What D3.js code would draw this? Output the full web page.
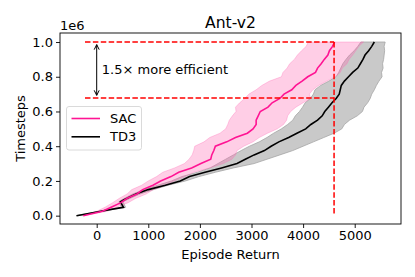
<!DOCTYPE html>
<html>
<head>
<meta charset="utf-8">
<script src="https://cdn.jsdelivr.net/npm/d3@7"></script>
<style>
  body { margin: 0; background: #fff; }
  svg { font-family: "DejaVu Sans", sans-serif; }
</style>
</head>
<body>
<div id="chart"></div>
<script>
// timesteps are in units of 1e6, values are episode returns
const sacSteps = [0, .025, .05, .075, .1, .125, .15, .175, .2, .225, .25, .275, .3, .325, .35, .375, .4, .425, .45, .475,
                  .5, .525, .55, .575, .6, .625, .65, .675, .7, .725, .75, .775, .8, .825, .85, .875, .9, .925, .95, .975, 1.0];
const sacMean  = [-260, 110, 290, 470, 590, 780, 890, 1090, 1240, 1440, 1590, 1840, 2020, 2210, 2230, 2270, 2300, 2520, 2690, 2920,
                  3030, 3090, 3090, 3130, 3170, 3320, 3400, 3550, 3630, 3780, 3860, 3980, 4090, 4240, 4280, 4350, 4410, 4480, 4510, 4570, 4610];
const sacLow   = [-270, 0, 170, 310, 440, 590, 680, 870, 1000, 1160, 1280, 1510, 1700, 1790, 1850, 1880, 1900, 2080, 2190, 2390,
                  2500, 2540, 2570, 2630, 2700, 2690, 2770, 2870, 2950, 3090, 3200, 3350, 3580, 3610, 3690, 3740, 3830, 3890, 3970, 4060, 4100];
const sacHigh  = [-250, 200, 400, 610, 760, 960, 1100, 1330, 1500, 1710, 1880, 2190, 2450, 2620, 2690, 2720, 2850, 3030, 3150, 3310,
                  3500, 3620, 3680, 3700, 3760, 3860, 4000, 4150, 4120, 4190, 4300, 4460, 4620, 4720, 4760, 4850, 4890, 4960, 5020, 5080, 5170];

const td3Steps = [0, .025, .045, .048, .08, .092, .1, .125, .15, .175, .2, .225, .25, .275, .3, .325, .35, .375, .4, .425,
                  .45, .475, .5, .525, .55, .575, .6, .625, .65, .675, .7, .725, .75, .775, .8, .825, .85, .875, .9, .925, .95, .975, 1.0];
const td3Mean  = [-390, 80, 450, 520, 460, 530, 590, 760, 1000, 1330, 1620, 1800, 2100, 2420, 2720, 2880, 3050, 3250, 3380, 3530,
                  3720, 3880, 4050, 4150, 4280, 4370, 4420, 4490, 4560, 4640, 4700, 4720, 4740, 4800, 4880, 4960, 5060, 5110, 5160, 5200, 5270, 5330, 5380];
const td3Low   = [-400, 50, 420, 480, 430, 490, 540, 700, 920, 1180, 1450, 1650, 1950, 2200, 2350, 2500, 2650, 2800, 2960, 3150,
                  3300, 3430, 3580, 3700, 3800, 3850, 3930, 3990, 4040, 4140, 4200, 4230, 4340, 4500, 4640, 4690, 4730, 4770, 4830, 4900, 4990, 5060, 5120];
const td3High  = [-380, 110, 480, 560, 510, 590, 650, 840, 1100, 1380, 1720, 1980, 2300, 2650, 3050, 3300, 3550, 3800, 4000, 4200,
                  4400, 4600, 4750, 4800, 4900, 5050, 5150, 5180, 5250, 5300, 5330, 5380, 5420, 5470, 5530, 5520, 5550, 5540, 5560, 5570, 5580, 5570, 5590];

const xTicks = [0, 1000, 2000, 3000, 4000, 5000];
const yTicks = [0, 0.2, 0.4, 0.6, 0.8, 1.0];

// reference lines
const targetReturn = 4600;
const sacReach = 0.678;
const guideStart = -227;

const width = 415, height = 277;
const marginLeft = 60, marginRight = 14, marginTop = 33, marginBottom = 53;

const x = d3.scaleLinear([-711, 5897], [marginLeft, width - marginRight]);
const y = d3.scaleLinear([-0.048, 1.052], [height - marginBottom, marginTop]);

const svg = d3.select("#chart").append("svg")
    .attr("width", width)
    .attr("height", height);

function rows(steps, mean, lo, hi) {
    return steps.map((t, i) => ({t: t, mean: mean[i], lo: lo[i], hi: hi[i]}));
}
const sac = rows(sacSteps, sacMean, sacLow, sacHigh);
const td3 = rows(td3Steps, td3Mean, td3Low, td3High);

const band = d3.area()
    .y(d => y(d.t))
    .x0(d => x(d.lo))
    .x1(d => x(d.hi));
const line = d3.line()
    .x(d => x(d.mean))
    .y(d => y(d.t));

const plot = svg.append("g");

// shaded bands
plot.append("path")
    .attr("d", band(td3))
    .attr("fill", "#c9c9c9")
    .attr("stroke", "#a6a6a6")
    .attr("stroke-width", 0.8);
plot.append("path")
    .attr("d", band(sac))
    .attr("fill", "#ff69b4")
    .attr("fill-opacity", 0.33)
    .attr("stroke", "#ff69b4")
    .attr("stroke-opacity", 0.4)
    .attr("stroke-width", 0.8);

plot.append("path")
    .attr("d", line(td3))
    .attr("fill", "none")
    .attr("stroke", "#000")
    .attr("stroke-width", 1.6);
plot.append("path")
    .attr("d", line(sac))
    .attr("fill", "none")
    .attr("stroke", "#ff1493")
    .attr("stroke-width", 1.6);

// red dashed guides
const dash = "5.5,2.4";
[1.0, sacReach].forEach(v => {
    svg.append("line")
        .attr("x1", x(guideStart)).attr("x2", x(targetReturn))
        .attr("y1", y(v)).attr("y2", y(v))
        .attr("stroke", "red").attr("stroke-width", 1.5)
        .attr("stroke-dasharray", dash);
});
svg.append("line")
    .attr("x1", x(targetReturn)).attr("x2", x(targetReturn))
    .attr("y1", y(1.0)).attr("y2", y(0))
    .attr("stroke", "red").attr("stroke-width", 1.5)
    .attr("stroke-dasharray", dash);

// double arrow
const ax = x(0), ayTop = y(0.985), ayBot = y(0.693);
svg.append("line")
    .attr("x1", ax).attr("x2", ax)
    .attr("y1", ayTop).attr("y2", ayBot)
    .attr("stroke", "#000").attr("stroke-width", 1);
svg.append("path")
    .attr("d", `M${ax - 2.5},${ayTop + 5}L${ax},${ayTop}L${ax + 2.5},${ayTop + 5}` +
               `M${ax - 2.5},${ayBot - 5}L${ax},${ayBot}L${ax + 2.5},${ayBot - 5}`)
    .attr("fill", "none").attr("stroke", "#000").attr("stroke-width", 1);
svg.append("text")
    .attr("x", x(100))
    .attr("y", y(0.84))
    .attr("dy", "0.35em")
    .attr("font-size", 13)
    .text("1.5× more efficient");

// axes
const xAxis = svg.append("g")
    .attr("transform", `translate(0,${height - marginBottom})`)
    .call(d3.axisBottom(x).tickValues(xTicks).tickFormat(d3.format("d")).tickSize(4).tickPadding(3));
const yAxis = svg.append("g")
    .attr("transform", `translate(${marginLeft},0)`)
    .call(d3.axisLeft(y).tickValues(yTicks).tickFormat(d3.format(".1f")).tickSize(4).tickPadding(3));
[xAxis, yAxis].forEach(g => {
    g.select(".domain").remove();
    g.selectAll("text").attr("font-size", 13).attr("fill", "#000").attr("font-family", "DejaVu Sans");
    g.selectAll("line").attr("stroke", "#000").attr("stroke-width", 0.9);
});

svg.append("rect")
    .attr("x", marginLeft).attr("y", marginTop)
    .attr("width", width - marginLeft - marginRight)
    .attr("height", height - marginTop - marginBottom)
    .attr("fill", "none").attr("stroke", "#000").attr("stroke-width", 0.9);

svg.append("text")
    .attr("x", marginLeft).attr("y", 29.5)
    .attr("font-size", 13)
    .text("1e6");

svg.append("text")
    .attr("x", (marginLeft + width - marginRight) / 2)
    .attr("y", 28)
    .attr("text-anchor", "middle")
    .attr("font-size", 15.6)
    .text("Ant-v2");

svg.append("text")
    .attr("x", (marginLeft + width - marginRight) / 2)
    .attr("y", 259)
    .attr("text-anchor", "middle")
    .attr("font-size", 13)
    .text("Episode Return");

svg.append("text")
    .attr("transform", `translate(25,${(marginTop + height - marginBottom) / 2}) rotate(-90)`)
    .attr("text-anchor", "middle")
    .attr("font-size", 13)
    .text("Timesteps");

// legend
const legend = svg.append("g").attr("transform", "translate(66.5,106.5)");
legend.append("rect")
    .attr("width", 75).attr("height", 43.5)
    .attr("rx", 2.5)
    .attr("fill", "#fff").attr("fill-opacity", 0.8)
    .attr("stroke", "#d6d6d6").attr("stroke-width", 0.9);
const entries = [["SAC", "#ff1493"], ["TD3", "#000"]];
entries.forEach(([name, color], i) => {
    const ly = 12 + i * 18.3;
    legend.append("line")
        .attr("x1", 5).attr("x2", 33.5)
        .attr("y1", ly).attr("y2", ly)
        .attr("stroke", color).attr("stroke-width", 1.6);
    legend.append("text")
        .attr("x", 43.5).attr("y", ly)
        .attr("dy", "0.36em")
        .attr("font-size", 13)
        .text(name);
});
</script>
</body>
</html>
